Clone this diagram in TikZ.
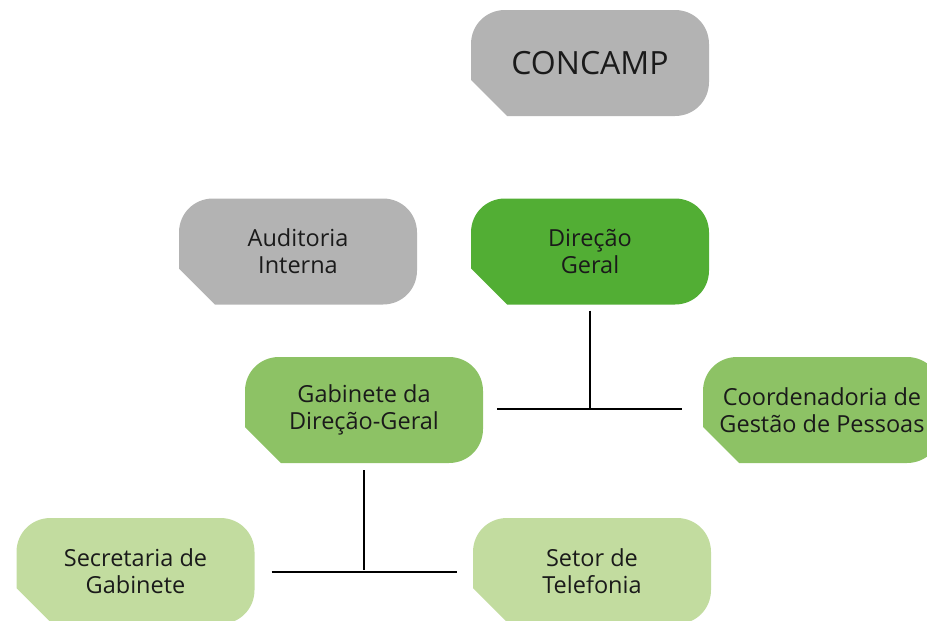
\documentclass[tikz,border=0pt]{standalone}
\usepackage{fontspec}
\setmainfont{Open Sans}
\definecolor{boxgray}{HTML}{B3B3B3}
\definecolor{gdark}{HTML}{52AE34}
\definecolor{gmid}{HTML}{8DC265}
\definecolor{glight}{HTML}{C2DC9F}
\definecolor{txt}{HTML}{1A1A1A}
\newcommand{\chbox}[4]{% center x, center y, colour
  \fill[#3] ({#1-119},{#2+17}) -- ({#1-119},{#2-19})
    .. controls ({#1-119},{#2-38}) and ({#1-104},{#2-53}) .. ({#1-85},{#2-53})
    -- ({#1+85},{#2-53})
    .. controls ({#1+104},{#2-53}) and ({#1+119},{#2-38}) .. ({#1+119},{#2-19})
    -- ({#1+119},{#2+19})
    .. controls ({#1+119},{#2+38}) and ({#1+104},{#2+53}) .. ({#1+85},{#2+53})
    -- ({#1-83},{#2+53}) -- cycle;}
\begin{document}
\begin{tikzpicture}[x=1pt,y=-1pt,
  lbl/.style={minimum width=238pt,minimum height=106pt,inner sep=0pt,align=center,
    text=txt,font=\fontsize{23.5}{27}\selectfont},
  conn/.style={line width=1.8pt,black}]
\useasboundingbox (0,0) rectangle (927,621);
\clip (0,0) rectangle (927,621);
% boxes
\chbox{590}{63}{boxgray}{}
\node[lbl,font=\fontsize{32}{36}\selectfont] (concamp) at (590,63) {CONCAMP};
\chbox{298}{251.5}{boxgray}{}
\node[lbl] (aud) at (298,251.5) {Auditoria\\Interna};
\chbox{590}{251.5}{gdark}{}
\node[lbl] (dir) at (590,251.5) {Direção\\Geral};
\chbox{364}{410}{gmid}{}
\node[lbl] (gab) at (364,410) {Gabinete da\\Direção-Geral};
\chbox{822}{410}{gmid}{}
\node[lbl] (cgp) at (822,410) {Coordenadoria de\\Gestão de Pessoas};
\chbox{135.5}{571}{glight}{}
\node[lbl] (sec) at (135.5,571) {Secretaria de\\Gabinete};
\chbox{592}{571}{glight}{}
\node[lbl] (tel) at (592,571) {Setor de\\Telefonia};
% connectors
\coordinate (j1) at (590,409);
\coordinate (j2) at (364,570);
\draw[conn] ([yshift=-6pt]dir.south) -- (j1);
\draw[conn] ([xshift=14pt,yshift=1pt]gab.east) -- ([xshift=-21pt,yshift=1pt]cgp.west);
\draw[conn] ([yshift=-7pt]gab.south) -- (j2);
\draw[conn] ([xshift=17pt,yshift=-1pt]sec.east) -- ([xshift=-16pt,yshift=-1pt]tel.west);
\end{tikzpicture}
\end{document}
